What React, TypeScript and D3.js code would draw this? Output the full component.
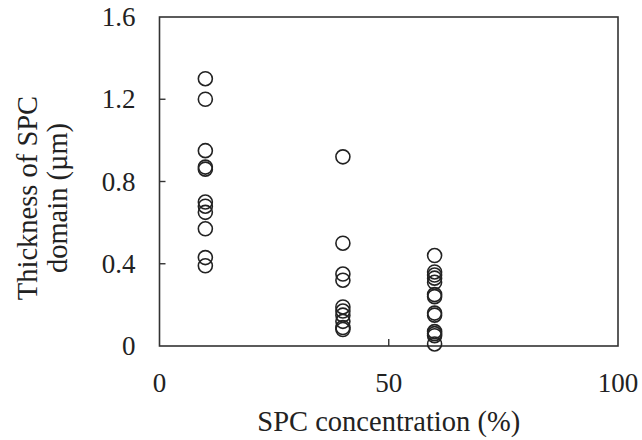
import React from "react";
import * as d3 from "d3";

// SPC concentration (%) for each group of measurements
const concentrations = [10, 40, 60];

// Thickness of SPC domain (µm), one list per concentration
const thickness10 = [1.3, 1.2, 0.95, 0.87, 0.86, 0.7, 0.68, 0.65, 0.57, 0.43, 0.39];
const thickness40 = [0.92, 0.5, 0.35, 0.32, 0.19, 0.17, 0.15, 0.12, 0.09, 0.08];
const thickness60 = [0.44, 0.36, 0.345, 0.33, 0.31, 0.25, 0.24, 0.16, 0.15, 0.07, 0.06, 0.05, 0.01];

const xTicks = [0, 50, 100];
const yTicks = [0, 0.4, 0.8, 1.2, 1.6];

const xTitle = "SPC concentration (%)";
const yTitle = ["Thickness of SPC", "domain (µm)"];

const width = 642;
const height = 440;
const margin = { top: 17, right: 24, bottom: 94, left: 159.5 };

const App = () => {
    const xScale = d3
        .scaleLinear()
        .domain([0, 100])
        .range([margin.left, width - margin.right]);

    const yScale = d3
        .scaleLinear()
        .domain([0, 1.6])
        .range([height - margin.bottom, margin.top]);

    // flatten the groups into points
    const groups = [thickness10, thickness40, thickness60];
    const points = groups.flatMap((vals, i) =>
        vals.map((v) => ({ x: concentrations[i], y: v }))
    );

    const x0 = xScale(0);
    const x1 = xScale(100);
    const y0 = yScale(0);
    const y1 = yScale(1.6);
    const ink = "#222";
    const font = "'Liberation Serif', 'Times New Roman', serif";
    const yFmt = d3.format(".1f");

    return (
        <svg
            width={width}
            height={height}
            style={{ position: "absolute", left: 0, top: 0, background: "#fff" }}
            fontFamily={font}
        >
            {/* frame */}
            <rect
                x={x0}
                y={y1}
                width={x1 - x0}
                height={y0 - y1}
                fill="none"
                stroke="#333"
                strokeWidth={1.6}
            />

            {/* inward ticks */}
            {yTicks.slice(1, -1).map((t) => (
                <line
                    key={"yt" + t}
                    x1={x0}
                    x2={x0 + 6}
                    y1={yScale(t)}
                    y2={yScale(t)}
                    stroke="#333"
                    strokeWidth={1.4}
                />
            ))}
            {xTicks.slice(1, -1).map((t) => (
                <line
                    key={"xt" + t}
                    x1={xScale(t)}
                    x2={xScale(t)}
                    y1={y0}
                    y2={y0 - 7}
                    stroke="#333"
                    strokeWidth={1.4}
                />
            ))}

            {/* tick labels */}
            {yTicks.map((t) => (
                <text
                    key={"yl" + t}
                    x={x0 - 24}
                    y={yScale(t) + 9}
                    textAnchor="end"
                    fontSize={27}
                    fill={ink}
                >
                    {t === 0 ? "0" : yFmt(t)}
                </text>
            ))}
            {xTicks.map((t) => (
                <text
                    key={"xl" + t}
                    x={xScale(t)}
                    y={392}
                    textAnchor="middle"
                    fontSize={27}
                    fill={ink}
                >
                    {t}
                </text>
            ))}

            {/* axis titles */}
            <text
                x={(x0 + x1) / 2}
                y={431}
                textAnchor="middle"
                fontSize={28.5}
                fill={ink}
            >
                {xTitle}
            </text>
            <text
                transform="translate(0,198) rotate(-90)"
                textAnchor="middle"
                fontSize={28.5}
                fill={ink}
            >
                {yTitle.map((line, i) => (
                    <tspan key={i} x={0} y={37 + i * 29.5}>
                        {line}
                    </tspan>
                ))}
            </text>

            {/* points */}
            {points.map((d, i) => (
                <circle
                    key={i}
                    cx={xScale(d.x)}
                    cy={yScale(d.y)}
                    r={7}
                    fill="none"
                    stroke={ink}
                    strokeWidth={1.6}
                />
            ))}
        </svg>
    );
};

export default App;
